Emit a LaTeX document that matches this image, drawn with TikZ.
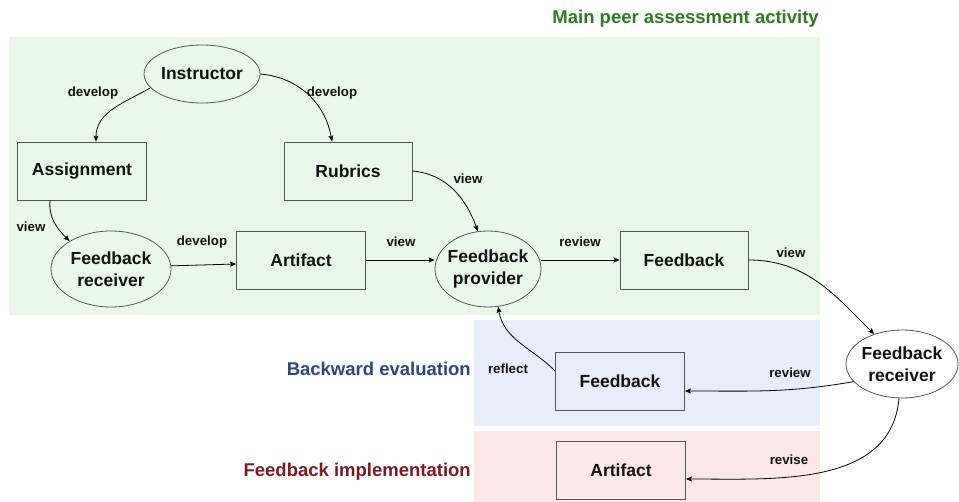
\documentclass[tikz,border=0pt]{standalone}
\usepackage{fontspec}
\setmainfont{Liberation Sans}
\usetikzlibrary{arrows.meta,shapes.geometric}
\definecolor{gfill}{HTML}{EAF8EA}
\definecolor{bfill}{HTML}{E7EEF9}
\definecolor{pfill}{HTML}{FCE8E9}
\definecolor{gtext}{HTML}{2E7A1E}
\definecolor{btext}{HTML}{2B477E}
\definecolor{rtext}{HTML}{7B1A24}
\definecolor{edgec}{HTML}{555555}
\definecolor{ink}{HTML}{111111}
\tikzset{
  box/.style={draw=edgec, line width=0.8pt, rectangle, minimum width=129pt, minimum height=58pt,
    inner sep=0pt, font=\bfseries\fontsize{17.5}{22}\selectfont, text=ink, align=center},
  oval/.style={draw=edgec, line width=0.8pt, ellipse, inner xsep=-15pt, inner ysep=0pt,
    font=\bfseries\fontsize{17.5}{22}\selectfont, text=ink, align=center},
  lbl/.style={font=\bfseries\fontsize{13.3}{16}\selectfont, text=ink, inner sep=0pt},
  ttl/.style={font=\bfseries\fontsize{18.5}{21}\selectfont, inner sep=0pt, anchor=east},
  arr/.style={-{Stealth[length=6pt,width=5pt,inset=1pt]}, line width=0.8pt, black}
}
\begin{document}
\begin{tikzpicture}[x=1pt,y=-1pt]
\path[use as bounding box] (0,0) rectangle (959,502);
\fill[gfill] (9,37) rectangle (820,315);
\fill[bfill] (474,320) rectangle (820,426);
\fill[pfill] (474,431) rectangle (820,502);

\node[ttl, text=gtext] (t1) at (819,19) {Main peer assessment activity};
\node[ttl, text=btext] (t2) at (471,369) {Backward evaluation};
\node[ttl, text=rtext] (t3) at (471,472) {Feedback implementation};

\node[oval, minimum width=116pt, minimum height=58pt] (inst) at (202,74) {Instructor};
\node[box] (asg) at (82,171) {Assignment};
\node[box, minimum width=128pt] (rub) at (348,171) {Rubrics};
\node[oval, minimum width=120pt, minimum height=76pt] (frl) at (111,269) {Feedback\\receiver};
\node[box] (art) at (301,260) {Artifact};
\node[oval, minimum width=106pt, minimum height=76pt] (prov) at (488,269) {Feedback\\provider};
\node[box, minimum width=128pt] (fbt) at (684,260) {Feedback};
\node[oval, fill=white, minimum width=112pt, minimum height=68pt] (frr) at (902,364) {Feedback\\receiver};
\node[box] (fbb) at (620,381) {Feedback};
\node[box] (artb) at (621,470) {Artifact};

\draw[arr] (inst.195) to[out=210,in=90] ([xshift=14pt]asg.north);
\draw[arr] (inst.east) to[out=-5,in=100] ([xshift=-16pt]rub.north);
\draw[arr] ([xshift=-32pt]asg.south) to[out=-95,in=135] (frl.146);
\draw[arr] (frl.3) -- ([yshift=-4pt]art.west);
\draw[arr] (art.east) -- ([yshift=9pt]prov.west);
\draw[arr] (rub.east) to[out=-5,in=110] (prov.105);
\draw[arr] ([yshift=9pt]prov.east) -- (fbt.west);
\draw[arr] (fbt.east) to[out=0,in=135] (frr.133);
\draw[arr] (frr.200) to[out=190,in=0] ([yshift=-10pt]fbb.east);
\draw[arr] (frr.-95) to[out=-95,in=0] ([yshift=-9pt]artb.east);
\draw[arr] ([yshift=10pt]fbb.west) to[out=135,in=-80] (prov.-75);

\node[lbl] (l1) at (93,93) {develop};
\node[lbl] (l2) at (332,93) {develop};
\node[lbl] (l3) at (31,227) {view};
\node[lbl] (l4) at (202,242) {develop};
\node[lbl] (l5) at (401,242) {view};
\node[lbl] (l6) at (468,179) {view};
\node[lbl] (l7) at (580,242) {review};
\node[lbl] (l8) at (791,253) {view};
\node[lbl] (l9) at (508,369) {reflect};
\node[lbl] (l10) at (790,373) {review};
\node[lbl] (l11) at (789,460) {revise};
\end{tikzpicture}
\end{document}
